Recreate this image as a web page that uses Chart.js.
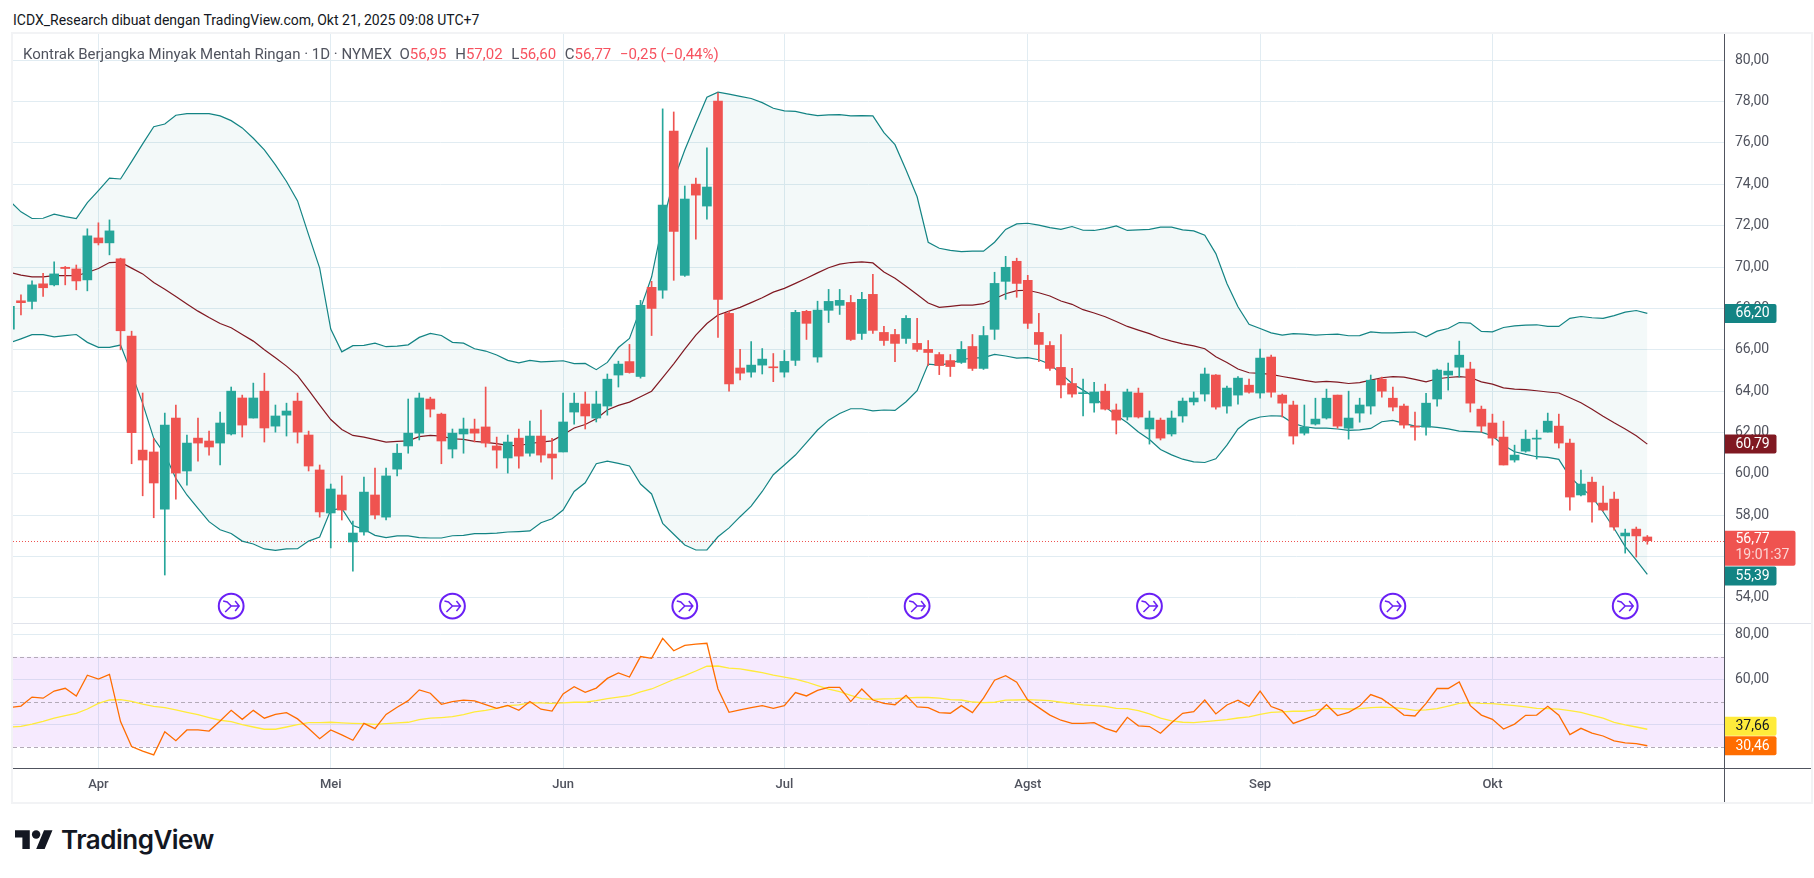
<!DOCTYPE html>
<html lang="id">
<head>
  <meta charset="UTF-8">
  <title>Kontrak Berjangka Minyak Mentah Ringan</title>
  <script src="https://cdn.jsdelivr.net/npm/chart.js"></script>
  <style>
    body { margin: 0; background: #fff; font-family: Roboto, sans-serif; }
    #page { position: relative; width: 1814px; height: 878px; overflow: hidden; }
    canvas { position: absolute; }
    .abs { position: absolute; white-space: nowrap; }
    #attrib { left: 13px; top: 11px; font-size: 14px; line-height: 18px; color: #131722; }
    #legend { left: 23px; top: 45px; font-size: 15px; line-height: 18px; color: #50535e; }
    #legend b { font-weight: 400; color: #f7525f; }
    #legend span { margin-right: 5px; }
    #wordmark { left: 61px; top: 823px; font-family: Inter, sans-serif; font-size: 26px; font-weight: 600; line-height: 34px; color: #131722; letter-spacing: -0.5px; }
    #frame { left: 11px; top: 32px; width: 1798px; height: 768px; border: 2px solid #f2f3f5; }
    #sep { left: 13px; top: 623px; width: 1798px; height: 1px; background: #e0e3eb; }
    #axisV { left: 1724px; top: 34px; width: 1px; height: 768px; background: #50535e; }
    #axisH { left: 13px; top: 768px; width: 1798px; height: 1px; background: #50535e; }
  </style>
</head>
<body>
<div id="page">
  <div class="abs" id="attrib">ICDX_Research dibuat dengan TradingView.com, Okt 21, 2025 09:08 UTC+7</div>
  <canvas id="mainChart" width="1798" height="589" style="left:13px;top:34px;width:1798px;height:589px"></canvas>
  <canvas id="rsiChart" width="1798" height="178" style="left:13px;top:624px;width:1798px;height:178px"></canvas>
  <div class="abs" id="frame"></div>
  <div class="abs" id="sep"></div>
  <div class="abs" id="axisV"></div>
  <div class="abs" id="axisH"></div>
  <div class="abs" id="legend">Kontrak Berjangka Minyak Mentah Ringan · 1D · NYMEX &nbsp;<span>O<b>56,95</b></span> <span>H<b>57,02</b></span> <span>L<b>56,60</b></span> <span>C<b>56,77</b></span> <b>−0,25 (−0,44%)</b></div>
  <svg class="abs" style="left:15px;top:830px" width="38" height="19.4" viewBox="0 4 36 18" fill="#131722">
    <path d="M14 22H7V11H0V4h14v18zM28 22h-8l7.5-18h8L28 22z"/><circle cx="20" cy="8" r="4"/>
  </svg>
  <div class="abs" id="wordmark">TradingView</div>
</div>

<script>
  // Harga harian
  const opens = [
    67.0,68.37,68.34,69.19,69.14,69.99,69.91,69.38,71.41,71.17,
    70.4,66.66,61.15,61.06,58.3,62.7,60.14,61.73,61.59,61.49,
    61.93,63.67,62.7,64.0,62.31,62.84,63.52,61.88,60.19,58.11,
    58.98,56.71,57.19,58.98,57.91,60.23,61.35,61.97,63.62,62.89,
    61.2,61.93,62.17,62.27,61.35,60.77,61.73,61.0,61.83,60.96,
    61.06,62.99,63.38,62.7,63.28,64.78,65.43,64.71,69.02,68.88,
    76.58,69.6,74.01,72.95,78.03,67.76,65.12,64.92,65.26,65.17,
    64.92,65.49,67.86,65.65,67.91,68.15,68.29,66.79,68.68,66.84,
    66.74,66.55,66.31,66.02,65.77,65.48,65.39,66.16,65.1,66.99,
    69.31,70.28,69.36,66.84,66.21,65.15,64.37,63.88,63.43,64.0,
    63.09,62.75,63.91,62.17,62.6,61.93,62.8,63.48,63.86,64.78,
    63.28,63.81,64.29,63.91,65.65,63.81,63.33,61.97,62.41,62.7,
    63.81,62.21,62.94,63.28,64.58,63.66,63.28,62.31,62.26,63.62,
    64.78,65.16,65.07,63.13,62.46,61.78,60.67,61.1,61.68,62.02,
    62.31,61.49,58.98,59.6,58.59,58.78,57.0,57.33,56.95
  ];
  const highs = [
    68.1,68.66,69.33,69.7,70.25,70.03,70.1,71.85,72.14,72.28,
    70.43,66.9,63.91,61.72,62.94,63.33,61.88,62.7,62.07,62.99,
    64.2,63.81,64.39,64.87,63.33,63.42,63.91,62.07,60.43,59.51,
    59.9,57.72,59.85,60.28,60.28,61.44,63.62,63.91,63.71,62.94,
    62.17,62.7,62.65,64.2,61.78,61.88,62.17,62.55,63.09,61.72,
    63.91,63.91,63.96,64.0,64.83,65.45,66.26,68.39,69.31,77.65,
    77.5,73.92,74.3,75.76,78.42,67.86,66.02,66.4,66.06,65.82,
    65.97,67.91,67.91,68.35,68.92,68.92,68.63,68.78,69.65,67.13,
    66.99,67.66,67.52,66.45,65.87,65.77,66.4,66.74,67.13,69.75,
    70.52,70.43,69.6,67.76,66.4,66.74,65.1,64.58,64.43,64.34,
    63.38,64.1,64.15,63.04,62.7,63.04,63.67,63.96,65.12,64.8,
    64.25,64.71,64.58,66.03,65.74,63.86,63.52,63.33,63.66,64.1,
    63.81,64.0,63.66,64.78,64.68,64.2,63.37,62.99,63.9,65.07,
    65.36,66.42,65.4,63.28,62.89,62.55,61.39,62.12,62.12,62.94,
    62.89,61.68,60.18,59.85,59.41,59.12,57.33,57.43,57.02
  ];
  const lows = [
    67.0,67.69,67.98,68.58,69.09,69.14,68.9,68.85,71.07,70.59,
    66.0,60.49,58.94,57.88,55.11,58.78,59.46,60.62,60.91,60.43,
    61.88,61.78,62.7,61.54,62.02,61.83,61.49,60.14,57.91,56.42,
    57.77,55.3,57.04,57.82,57.77,59.9,61.0,61.64,62.75,60.49,
    60.77,61.0,61.54,61.3,60.28,60.04,60.28,60.86,60.57,59.75,
    61.06,62.41,62.17,62.51,62.84,64.2,64.87,64.63,66.69,68.49,
    69.36,69.55,71.35,72.32,66.6,64.0,64.54,64.68,64.83,64.46,
    64.68,65.24,66.5,65.4,67.32,67.71,66.45,66.5,66.79,66.21,
    65.43,66.31,65.92,65.24,64.8,64.71,65.34,65.0,65.05,66.5,
    68.44,68.54,67.03,65.43,65.0,63.67,63.71,62.8,62.99,63.09,
    61.93,62.6,62.7,61.44,61.64,61.83,62.5,63.33,63.52,63.13,
    62.94,63.37,63.9,63.66,63.71,62.75,61.44,61.88,62.36,62.65,
    62.21,61.68,62.5,62.89,63.71,63.04,62.21,61.63,61.87,63.28,
    64.05,64.68,62.99,62.02,61.39,60.43,60.57,61.05,60.72,62.02,
    61.25,58.25,58.93,57.67,58.2,57.28,56.17,55.98,56.6
  ];
  const closes = [
    68.1,68.28,69.14,69.0,69.67,69.93,69.33,71.51,71.17,71.75,
    66.92,61.99,60.67,59.56,62.36,60.04,61.49,61.49,61.3,62.46,
    64.0,62.36,63.67,62.22,62.8,63.04,62.02,60.38,58.16,59.27,
    58.25,57.14,59.12,58.01,59.9,61.0,61.97,63.67,63.13,61.59,
    61.97,62.17,61.97,61.49,61.15,61.54,60.86,61.83,60.91,60.77,
    62.51,63.42,62.8,63.38,64.58,65.31,64.9,68.15,68.0,73.0,
    71.73,73.29,73.48,73.87,68.44,64.35,64.87,65.26,65.55,65.13,
    65.44,67.81,67.28,67.92,68.34,68.39,66.5,68.44,66.94,66.45,
    66.31,67.52,66.02,65.87,65.24,65.19,66.02,65.1,66.69,69.21,
    69.99,69.21,67.28,66.26,65.1,64.3,63.86,63.92,63.96,63.13,
    62.6,63.96,62.75,62.7,61.73,62.7,63.52,63.67,64.83,63.23,
    64.15,64.63,63.95,65.6,63.95,63.42,61.83,62.26,62.65,63.66,
    62.31,62.7,63.33,64.53,64.0,63.23,62.36,62.26,63.42,65.02,
    64.97,65.74,63.42,62.31,61.73,60.43,60.91,61.68,61.73,62.55,
    61.49,58.88,59.51,58.64,58.25,57.43,57.14,57.0,56.77
  ];

  // Bollinger
  const bbUpper = [
    73.19,72.67,72.35,72.36,72.56,72.44,72.35,73.12,73.70,74.30,
    74.26,75.10,75.96,76.79,76.92,77.34,77.42,77.42,77.42,77.31,
    77.08,76.73,76.23,75.67,74.94,74.14,73.20,71.56,69.95,67.0,
    65.90,66.20,66.21,66.32,66.15,66.18,66.24,66.60,66.79,66.69,
    66.36,66.32,66.05,65.94,65.75,65.49,65.37,65.49,65.42,65.44,
    65.47,65.33,65.34,65.04,65.39,66.11,66.55,67.99,69.52,72.11,
    74.21,75.66,76.95,78.21,78.46,78.36,78.25,78.15,77.95,77.68,
    77.55,77.53,77.41,77.32,77.36,77.37,77.31,77.32,77.31,76.50,
    75.92,74.69,73.40,71.20,70.91,70.81,70.75,70.77,70.77,71.20,
    71.82,72.09,72.12,72.03,71.91,71.82,71.96,71.78,71.77,71.86,
    71.99,71.77,71.80,71.82,71.93,71.93,71.80,71.75,71.54,70.65,
    69.21,68.08,67.23,67.03,66.82,66.71,66.78,66.76,66.71,66.74,
    66.76,66.68,66.69,66.87,66.82,66.82,66.84,66.86,66.63,66.90,
    67.03,67.32,67.29,66.89,66.87,67.08,67.16,67.19,67.21,67.13,
    67.13,67.52,67.61,67.55,67.52,67.65,67.82,67.90,67.76
  ];
  const bbBasis = [
    69.74,69.61,69.53,69.53,69.59,69.59,69.58,69.74,69.93,70.22,
    70.24,69.95,69.67,69.25,68.93,68.58,68.22,67.87,67.56,67.27,
    67.07,66.74,66.42,66.00,65.62,65.21,64.75,64.05,63.33,62.63,
    62.15,61.86,61.78,61.66,61.54,61.57,61.60,61.80,61.86,61.83,
    61.70,61.67,61.57,61.52,61.46,61.38,61.36,61.47,61.54,61.60,
    61.89,62.22,62.39,62.67,63.09,63.31,63.47,63.73,64.0,64.66,
    65.32,66.03,66.71,67.27,67.68,67.87,68.05,68.28,68.52,68.79,
    68.97,69.21,69.46,69.72,69.97,70.14,70.22,70.25,70.20,69.76,
    69.46,69.07,68.67,68.26,68.05,68.10,68.16,68.16,68.23,68.47,
    68.71,68.86,68.88,68.76,68.60,68.36,68.20,67.94,67.78,67.60,
    67.37,67.13,66.95,66.78,66.57,66.42,66.29,66.19,66.05,65.66,
    65.39,65.07,64.89,64.86,64.81,64.71,64.62,64.52,64.44,64.47,
    64.44,64.37,64.41,64.53,64.65,64.70,64.68,64.57,64.45,64.60,
    64.66,64.70,64.66,64.45,64.34,64.16,64.10,64.07,64.02,63.96,
    63.91,63.68,63.44,63.13,62.79,62.47,62.17,61.84,61.44
  ];
  const bbLower = [
    66.34,66.53,66.73,66.73,66.63,66.69,66.74,66.36,66.12,66.12,
    66.23,64.86,63.41,61.72,60.96,59.78,58.98,58.33,57.69,57.30,
    57.12,56.75,56.61,56.37,56.30,56.37,56.38,56.75,56.95,58.25,
    58.33,57.50,57.32,57.03,56.92,57.00,57.00,56.92,56.90,56.90,
    57.01,57.03,57.11,57.11,57.14,57.19,57.21,57.24,57.64,57.83,
    58.25,59.15,59.57,60.49,60.62,60.51,60.38,59.51,59.03,57.61,
    57.08,56.56,56.32,56.32,56.96,57.39,57.93,58.44,59.15,59.96,
    60.43,60.91,61.51,62.12,62.60,62.92,63.15,63.15,63.05,63.09,
    63.07,63.49,64.02,65.31,65.26,65.34,65.53,65.60,65.62,65.78,
    65.70,65.60,65.62,65.52,65.30,64.85,64.37,64.05,63.72,63.24,
    62.84,62.47,62.03,61.66,61.18,60.92,60.71,60.58,60.55,60.73,
    61.39,62.17,62.59,62.75,62.81,62.79,62.44,62.28,62.21,62.21,
    62.17,62.10,62.13,62.20,62.52,62.59,62.44,62.31,62.30,62.25,
    62.18,62.07,62.04,62.02,61.83,61.39,61.07,60.94,60.83,60.80,
    60.70,59.86,59.35,58.89,58.17,57.36,56.48,55.83,55.14
  ];

  // RSI dan rata-ratanya
  const rsiValues = [
    47.4,48.1,52.1,51.6,54.8,56.0,52.6,61.8,60.1,62.2,
    41.2,30.1,28.1,26.4,36.7,32.7,37.5,37.5,37.0,41.5,
    46.2,42.2,46.2,42.7,44.4,45.2,42.4,38.1,33.6,37.5,
    35.3,32.9,40.4,38.1,44.4,47.6,50.5,55.3,53.8,48.9,
    50.1,50.7,50.4,48.7,47.1,48.4,46.2,50.1,46.7,45.9,
    53.5,56.7,54.2,56.1,60.4,62.8,61.0,70.1,69.3,78.2,
    72.7,75.1,75.6,76.0,55.7,45.3,46.4,47.4,48.3,47.1,
    48.3,54.1,52.6,55.1,56.4,56.4,50.1,55.7,50.8,49.3,
    48.7,52.9,47.7,47.4,45.2,44.9,48.3,45.2,51.6,59.6,
    61.6,58.7,50.8,47.4,44.1,41.8,40.4,40.4,40.7,38.2,
    36.6,43.1,39.3,39.0,36.0,40.7,44.9,45.6,50.8,44.6,
    48.6,50.7,48.0,54.7,47.9,46.1,40.4,42.2,44.0,48.7,
    43.9,45.3,48.1,53.2,51.4,47.9,44.1,43.7,49.3,55.9,
    55.9,58.8,48.3,44.1,42.2,37.9,40.1,44.0,44.1,48.0,
    44.0,35.4,38.2,36.1,34.8,32.6,31.7,31.4,30.46
  ];
  const rsiMa = [
    38.7,39.1,40.1,41.3,42.7,43.9,44.9,46.8,49.3,50.8,
    51.0,50.2,49.0,48.0,47.4,46.4,45.3,44.3,43.0,41.8,
    41.2,39.9,38.8,37.8,37.8,38.8,39.9,40.7,40.7,40.9,
    40.6,40.4,40.3,40.0,40.3,40.6,40.9,42.1,42.7,43.0,
    43.4,44.3,45.5,46.2,47.1,48.3,48.6,49.5,49.5,49.3,
    49.5,49.8,49.8,50.5,51.4,52.1,52.7,54.4,55.7,57.8,
    59.9,61.6,63.7,65.8,65.9,65.0,64.6,63.8,63.0,61.9,
    61.0,60.1,58.8,57.2,55.6,54.5,52.9,51.4,51.1,51.3,
    51.4,51.7,51.9,51.9,51.6,51.0,50.8,49.9,49.6,49.8,
    50.7,50.8,51.0,50.7,50.5,49.8,49.2,48.6,48.3,48.0,
    47.1,47.0,46.1,44.6,42.7,41.5,40.9,40.7,41.2,41.6,
    42.1,42.8,43.3,44.4,45.3,45.5,45.8,45.8,46.4,47.0,
    47.0,46.8,47.0,47.4,47.6,47.4,47.0,46.2,46.4,47.0,
    48.1,49.3,49.6,49.3,49.2,48.7,48.3,47.7,47.1,47.0,
    46.7,46.1,45.3,44.0,42.7,40.9,39.7,38.8,37.8
  ];

  // Sumbu
  const monthIdx = [8, 29, 50, 70, 92, 113, 134];
  const monthLabels = ["Apr", "Mei", "Jun", "Jul", "Agst", "Sep", "Okt"];
  const priceTicks = [80, 78, 76, 74, 72, 70, 68, 66, 64, 62, 60, 58, 56, 54];
  const rsiTicks = [80, 60, 40];
  const rsiLevels = [70, 50, 30];
  const rollIdx = [20, 40, 61, 82, 103, 125, 146];
  const rollLevel = 53.61;
  const lastPrice = 56.77;
  const countdown = "19:01:37";
  const upperLabel = "66,20";
  const basisLabel = "60,79";
  const priceLabel = "56,77";
  const lowerLabel = "55,39";
  const maLabel = "37,66";
  const rsiLabel = "30,46";

  const GREEN = "#26a69a";
  const RED = "#ef5350";
  const TEAL = "#138484";
  const MAROON = "#801922";
  const GRID = "#e1ecf2";
  const FONT = "Roboto, sans-serif";
  const xMin = 0.28, xMax = 154.93;
  const indexes = closes.map((c, i) => i);
  const candleColor = closes.map((c, i) => c >= opens[i] ? GREEN : RED);
  const pts = arr => arr.map((v, i) => ({ x: i, y: v }));

  function xScaleOptions(showLabels) {
    return {
      type: "linear",
      min: xMin,
      max: xMax,
      offset: false,
      afterBuildTicks: s => { s.ticks = monthIdx.map(v => ({ value: v })); },
      afterFit: s => {
        s.height = showLabels ? 33.7 : 0;
        s.paddingLeft = 0;
        s.paddingRight = 0;
      },
      grid: { color: GRID, offset: false, drawTicks: false },
      border: { display: false },
      ticks: {
        display: showLabels,
        autoSkip: false,
        maxRotation: 0,
        padding: 9,
        color: "#50535e",
        font: { family: FONT, size: 13, weight: "500" },
        callback: v => monthLabels[monthIdx.indexOf(v)]
      }
    };
  }

  function yScaleOptions(min, max, values) {
    return {
      position: "right",
      min: min,
      max: max,
      afterBuildTicks: s => { s.ticks = values.map(v => ({ value: v })); },
      afterFit: s => {
        s.width = 87;
        s.paddingTop = 0;
        s.paddingBottom = 0;
      },
      grid: { color: GRID, drawTicks: false },
      border: { display: false },
      ticks: {
        padding: 11,
        color: "#50535e",
        font: { family: FONT, size: 14 },
        callback: v => v.toFixed(2).replace(".", ",")
      }
    };
  }

  function badge(ctx, x, yMid, w, h, color, text, textColor) {
    ctx.fillStyle = color;
    ctx.beginPath();
    ctx.roundRect(x, yMid - h / 2, w, h, [0, 2, 2, 0]);
    ctx.fill();
    ctx.fillStyle = textColor;
    ctx.font = "14px " + FONT;
    ctx.textAlign = "left";
    ctx.textBaseline = "middle";
    ctx.fillText(text, x + 11, yMid + 0.5);
  }

  const priceLinePlugin = {
    id: "priceLine",
    beforeDatasetsDraw(chart) {
      const { ctx, chartArea, scales } = chart;
      const y = Math.round(scales.y.getPixelForValue(lastPrice)) + 0.5;
      ctx.save();
      ctx.strokeStyle = RED;
      ctx.lineWidth = 1;
      ctx.setLineDash([1, 2]);
      ctx.beginPath();
      ctx.moveTo(chartArea.left, y);
      ctx.lineTo(chartArea.right, y);
      ctx.stroke();
      ctx.restore();
    }
  };

  // ikon pergantian kontrak
  const rollPlugin = {
    id: "rollIcons",
    afterDatasetsDraw(chart) {
      const { ctx, scales } = chart;
      ctx.save();
      ctx.strokeStyle = "#6a20f5";
      rollIdx.forEach(i => {
        const cx = scales.x.getPixelForValue(i);
        const cy = scales.y.getPixelForValue(rollLevel);
        ctx.fillStyle = "#fff";
        ctx.lineWidth = 2;
        ctx.beginPath();
        ctx.arc(cx, cy, 12.4, 0, Math.PI * 2);
        ctx.fill();
        ctx.stroke();
        ctx.lineWidth = 1.5;
        ctx.beginPath();
        ctx.moveTo(cx - 8, cy - 5);
        ctx.lineTo(cx - 4, cy - 4);
        ctx.lineTo(cx, cy);
        ctx.lineTo(cx - 6, cy + 6);
        ctx.moveTo(cx, cy);
        ctx.lineTo(cx + 8, cy);
        ctx.moveTo(cx + 4, cy - 5);
        ctx.lineTo(cx + 8, cy);
        ctx.lineTo(cx + 4, cy + 5);
        ctx.stroke();
      });
      ctx.restore();
    }
  };

  const mainBadges = {
    id: "mainBadges",
    afterDraw(chart) {
      const { ctx, chartArea, scales } = chart;
      const x = chartArea.right + 0.5;
      const last = closes.length - 1;
      ctx.save();
      badge(ctx, x, scales.y.getPixelForValue(bbUpper[last]), 52, 19, TEAL, upperLabel, "#fff");
      badge(ctx, x, scales.y.getPixelForValue(bbBasis[last]), 52, 19, MAROON, basisLabel, "#fff");
      badge(ctx, x, scales.y.getPixelForValue(bbLower[last]) + 1.5, 52, 19, TEAL, lowerLabel, "#fff");
      const py = scales.y.getPixelForValue(lastPrice);
      ctx.fillStyle = RED;
      ctx.beginPath();
      ctx.roundRect(x, py - 10, 71, 35, [0, 2, 2, 0]);
      ctx.fill();
      ctx.fillStyle = "#fff";
      ctx.font = "14px " + FONT;
      ctx.textAlign = "left";
      ctx.textBaseline = "middle";
      ctx.fillText(priceLabel, x + 11, py - 1);
      ctx.fillStyle = "rgba(255,255,255,0.75)";
      ctx.fillText(countdown, x + 11, py + 15);
      ctx.restore();
    }
  };

  const rsiBand = {
    id: "rsiBand",
    beforeDatasetsDraw(chart) {
      const { ctx, chartArea, scales } = chart;
      const top = scales.y.getPixelForValue(rsiLevels[0]);
      const bottom = scales.y.getPixelForValue(rsiLevels[2]);
      ctx.save();
      ctx.fillStyle = "rgba(165,50,245,0.10)";
      ctx.fillRect(chartArea.left, top, chartArea.right - chartArea.left, bottom - top);
      ctx.strokeStyle = "#b3aab8";
      ctx.lineWidth = 1;
      ctx.setLineDash([4, 3]);
      rsiLevels.forEach(v => {
        const y = Math.round(scales.y.getPixelForValue(v)) + 0.5;
        ctx.beginPath();
        ctx.moveTo(chartArea.left, y);
        ctx.lineTo(chartArea.right, y);
        ctx.stroke();
      });
      ctx.restore();
    }
  };

  const rsiBadges = {
    id: "rsiBadges",
    afterDraw(chart) {
      const { ctx, chartArea, scales } = chart;
      const x = chartArea.right + 0.5;
      const last = rsiValues.length - 1;
      ctx.save();
      badge(ctx, x, scales.y.getPixelForValue(rsiMa[last]) - 3, 52, 19, "#ffeb3b", maLabel, "#131722");
      badge(ctx, x, scales.y.getPixelForValue(rsiValues[last]), 52, 19, "#ff6d00", rsiLabel, "#fff");
      ctx.restore();
    }
  };

  new Chart(document.getElementById("mainChart"), {
    type: "bar",
    data: {
      labels: indexes,
      datasets: [
        { type: "line", data: pts(bbUpper), borderColor: TEAL, borderWidth: 1.2, pointRadius: 0, tension: 0,
          fill: 2, backgroundColor: "rgba(19,132,132,0.05)", order: 4 },
        { type: "line", data: pts(bbBasis), borderColor: MAROON, borderWidth: 1.2, pointRadius: 0, tension: 0, fill: false, order: 3 },
        { type: "line", data: pts(bbLower), borderColor: TEAL, borderWidth: 1.2, pointRadius: 0, tension: 0, fill: false, order: 2 },
        { data: indexes.map(i => ({ x: i, y: [lows[i], highs[i]] })), backgroundColor: candleColor, barThickness: 1, grouped: false, order: 1 },
        { data: indexes.map(i => ({ x: i, y: [opens[i], closes[i]] })), backgroundColor: candleColor, barThickness: 9, minBarLength: 1, grouped: false, order: 0 }
      ]
    },
    plugins: [priceLinePlugin, rollPlugin, mainBadges],
    options: {
      responsive: false,
      animation: false,
      layout: { padding: 0, autoPadding: false },
      plugins: { legend: { display: false }, tooltip: { enabled: false } },
      scales: {
        x: xScaleOptions(false),
        y: yScaleOptions(52.79, 81.27, priceTicks)
      }
    }
  });

  new Chart(document.getElementById("rsiChart"), {
    type: "line",
    data: {
      labels: indexes,
      datasets: [
        { data: pts(rsiValues), borderColor: "#ff6d00", borderWidth: 1.3, pointRadius: 0, tension: 0, fill: false, order: 0 },
        { data: pts(rsiMa), borderColor: "#ffeb3b", borderWidth: 1.3, pointRadius: 0, tension: 0, fill: false, order: 1 }
      ]
    },
    plugins: [rsiBand, rsiBadges],
    options: {
      responsive: false,
      animation: false,
      layout: { padding: 0, autoPadding: false },
      plugins: { legend: { display: false }, tooltip: { enabled: false } },
      scales: {
        x: xScaleOptions(true),
        y: yScaleOptions(20.44, 84.58, rsiTicks)
      }
    }
  });
</script>
</body>
</html>
